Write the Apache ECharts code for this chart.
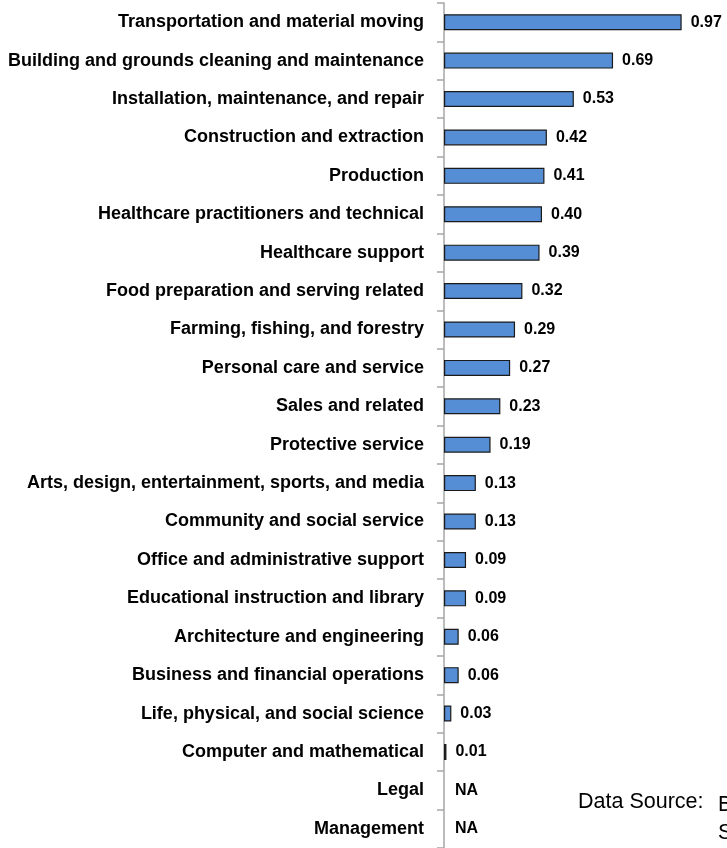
<!DOCTYPE html>
<html>
<head>
<meta charset="utf-8">
<script src="https://cdn.jsdelivr.net/npm/echarts@6/dist/echarts.min.js"></script>
<style>html,body{margin:0;padding:0;background:#fff;}#c{width:727px;height:848px;}</style>
</head>
<body>
<div id="c"></div>
<script>
const categories = [
  "Transportation and material moving",
  "Building and grounds cleaning and maintenance",
  "Installation, maintenance, and repair",
  "Construction and extraction",
  "Production",
  "Healthcare practitioners and technical",
  "Healthcare support",
  "Food preparation and serving related",
  "Farming, fishing, and forestry",
  "Personal care and service",
  "Sales and related",
  "Protective service",
  "Arts, design, entertainment, sports, and media",
  "Community and social service",
  "Office and administrative support",
  "Educational instruction and library",
  "Architecture and engineering",
  "Business and financial operations",
  "Life, physical, and social science",
  "Computer and mathematical",
  "Legal",
  "Management"
];
const values = [0.97, 0.69, 0.53, 0.42, 0.41, 0.40, 0.39, 0.32, 0.29, 0.27, 0.23, 0.19, 0.13, 0.13, 0.09, 0.09, 0.06, 0.06, 0.03, 0.01, null, null];
const sourceLines = ["Bureau of Labor", "Statistics", "items"];

const chart = echarts.init(document.getElementById('c'), null, {renderer: 'canvas'});
const seriesData = values.map(v => v === null
  ? {value: 0, itemStyle: {borderWidth: 0, color: 'transparent'}, label: {formatter: 'NA', distance: 11}}
  : {value: v});

chart.setOption({
  animation: false,
  backgroundColor: '#ffffff',
  grid: {left: 444, top: 3, width: 245, height: 845, containLabel: false, outerBoundsMode: 'none'},
  xAxis: {type: 'value', min: 0, max: 1, show: false},
  yAxis: {
    type: 'category',
    data: categories,
    inverse: true,
    axisLine: {show: true, lineStyle: {color: '#a6a6a6', width: 1.5}},
    axisTick: {show: true, length: 7, lineStyle: {color: '#a6a6a6', width: 1.5}},
    axisLabel: {color: '#000', fontFamily: '"Liberation Sans", Arial, sans-serif', fontWeight: 'bold', fontSize: 18, margin: 20},
    splitLine: {show: false}
  },
  series: [{
    type: 'bar',
    data: seriesData,
    barWidth: 16,
    itemStyle: {color: '#558ed5', borderColor: '#1a1a1a', borderWidth: 1.2},
    label: {
      show: true, position: 'right', distance: 9,
      color: '#000', fontFamily: '"Liberation Sans", Arial, sans-serif', fontWeight: 'bold', fontSize: 16,
      formatter: p => p.value.toFixed(2)
    }
  }],
  graphic: [
    {type: 'text', left: 578, top: 791, style: {text: 'Data Source:', fill: '#000', font: '21.5px "Liberation Sans", Arial, sans-serif'}},
    {type: 'text', left: 718, top: 791, style: {text: sourceLines.join('\n'), fill: '#000', font: '21.5px "Liberation Sans", Arial, sans-serif', lineHeight: 28}}
  ]
});
</script>
</body>
</html>
